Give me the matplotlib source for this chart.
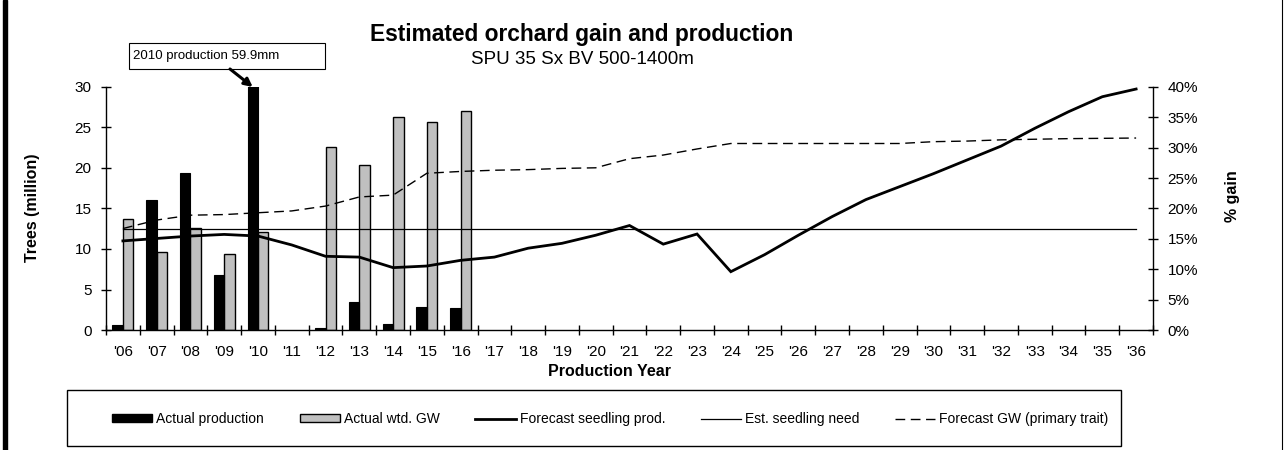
import numpy as np
import matplotlib
matplotlib.use("Agg")
import matplotlib.pyplot as plt
import matplotlib.ticker as mtick
from matplotlib.lines import Line2D
from matplotlib.patches import Rectangle, Patch

plt.rcParams['font.family'] = ['Liberation Sans', 'DejaVu Sans']

# dados
years = list(range(2006, 2037))
year_labels = ["'" + str(y)[2:] for y in years]

actual_years = list(range(2006, 2017))
actual_production = [0.6, 16.0, 19.4, 6.75, 59.9, np.nan, 0.3, 3.5, 0.8, 2.9, 2.7]
actual_gw = [18.2, 12.8, 16.8, 12.5, 16.1, np.nan, 30.2, 27.2, 35.1, 34.2, 36.1]

forecast_prod = [11.0, 11.3, 11.6, 11.8, 11.6, 10.5, 9.1, 9.0, 7.7, 7.9,
                 8.6, 9.0, 10.1, 10.7, 11.7, 12.9, 10.6, 11.85, 7.2, 9.3,
                 11.7, 14.0, 16.1, 17.7, 19.3, 21.0, 22.7, 24.9, 26.95, 28.8, 29.75]
forecast_gw = [16.7, 18.1, 18.9, 19.0, 19.3, 19.6, 20.4, 21.9, 22.2, 25.8,
               26.1, 26.3, 26.4, 26.6, 26.7, 28.2, 28.8, 29.8, 30.7, 30.7,
               30.7, 30.7, 30.7, 30.7, 31.0, 31.1, 31.3, 31.4, 31.5, 31.55, 31.6]
seedling_need = 12.5

W, H = 1284, 450
fig = plt.figure(figsize=(W / 100, H / 100), dpi=100)
ax = fig.add_axes([106 / W, 1 - 330 / H, 1047 / W, 243 / H])
ax2 = ax.twinx()
ax.set_zorder(2)
ax2.set_zorder(1)
ax.patch.set_visible(False)

x = np.arange(len(years))
xa = np.arange(len(actual_years))
bw = 0.31

ax.bar(xa - bw / 2, actual_production, bw, color='black', edgecolor='black', linewidth=0.8)
ax2.bar(xa + bw / 2, actual_gw, bw, color='#c0c0c0', edgecolor='black', linewidth=1.0)

ax.plot(x, forecast_prod, color='black', lw=2.0, solid_joinstyle='miter')
ax.plot(x, [seedling_need] * len(x), color='black', lw=0.9)
ax2.plot(x, forecast_gw, color='black', lw=1.0, ls=(0, (7, 4)))

# eixos
ax.set_xlim(-0.5, len(years) - 0.5)
ax.set_ylim(0, 30)
ax2.set_ylim(0, 40)
ax.set_yticks(range(0, 31, 5))
ax2.set_yticks(range(0, 41, 5))
ax2.yaxis.set_major_formatter(mtick.FuncFormatter(lambda v, _: f'{v:.0f}%'))

ax.set_xticks(x)
ax.set_xticklabels(year_labels)
ax.set_xticks(np.arange(-0.5, len(years)), minor=True)
ax.tick_params(axis='x', which='major', length=0, labelsize=11, pad=11)
ax.tick_params(axis='x', which='minor', direction='inout', length=7, width=1)
ax.tick_params(axis='y', direction='inout', length=7, width=1, labelsize=11, pad=7)
ax2.tick_params(axis='y', direction='inout', length=7, width=1, labelsize=11, pad=7)

for s in ['top', 'right']:
    ax.spines[s].set_visible(False)
for s in ['top', 'left', 'bottom']:
    ax2.spines[s].set_visible(False)
ax.spines['left'].set_linewidth(1)
ax.spines['bottom'].set_linewidth(1)
ax2.spines['right'].set_linewidth(1)

# titulos e rotulos
fig.text(582 / W, 1 - 41 / H, 'Estimated orchard gain and production',
         ha='center', va='baseline', fontsize=16.4, fontweight='bold')
fig.text(582 / W, 1 - 64 / H, 'SPU 35 Sx BV 500-1400m',
         ha='center', va='baseline', fontsize=13.5)
fig.text(33 / W, 1 - 208 / H, 'Trees (million)', rotation=90,
         ha='center', va='center', fontsize=11.5, fontweight='bold')
fig.text(1232 / W, 1 - 196 / H, '% gain', rotation=90,
         ha='center', va='center', fontsize=11.5, fontweight='bold')
fig.text(610 / W, 1 - 372 / H, 'Production Year',
         ha='center', va='center', fontsize=11.5, fontweight='bold')

# caixa de anotacao 2010
fig.add_artist(Rectangle((129 / W, 1 - 69 / H), 196 / W, 26 / H, transform=fig.transFigure,
                         facecolor='white', edgecolor='black', lw=0.8))
fig.text(133 / W, 1 - 56 / H, '2010 production 59.9mm', ha='left', va='center', fontsize=9.5)
ax.annotate('', xy=(xa[4] - bw / 2, 30), xycoords='data',
            xytext=(230 / W, 1 - 69 / H), textcoords='figure fraction',
            arrowprops=dict(arrowstyle='-|>', color='black', lw=2.2,
                            shrinkA=0, shrinkB=0, mutation_scale=12),
            annotation_clip=False)

# legenda
handles = [
    Patch(facecolor='black', edgecolor='black', label='Actual production'),
    Patch(facecolor='#c0c0c0', edgecolor='black', label='Actual wtd. GW'),
    Line2D([], [], color='black', lw=2.0, label='Forecast seedling prod.'),
    Line2D([], [], color='black', lw=0.9, label='Est. seedling need'),
    Line2D([], [], color='black', lw=1.0, ls=(0, (7, 4)), label='Forecast GW (primary trait)'),
]
fig.legend(handles=handles, ncol=5, loc='center left', bbox_to_anchor=(112 / W, 1 - 419 / H),
           frameon=False, fontsize=10, handlelength=2.9, handleheight=0.5,
           handletextpad=0.3, columnspacing=2.55, borderpad=0, borderaxespad=0)
fig.add_artist(Rectangle((67 / W, 1 - 446 / H), (1121 - 67) / W, 56 / H, transform=fig.transFigure,
                         fill=False, edgecolor='black', lw=1))

# bordas da figura
fig.add_artist(Rectangle((3 / W, 0), 4 / W, 1, transform=fig.transFigure, color='black'))
fig.add_artist(Line2D([1281.5 / W, 1281.5 / W], [0, 1], transform=fig.transFigure, color='black', lw=0.8))

fig.savefig('out.png', dpi=100)
